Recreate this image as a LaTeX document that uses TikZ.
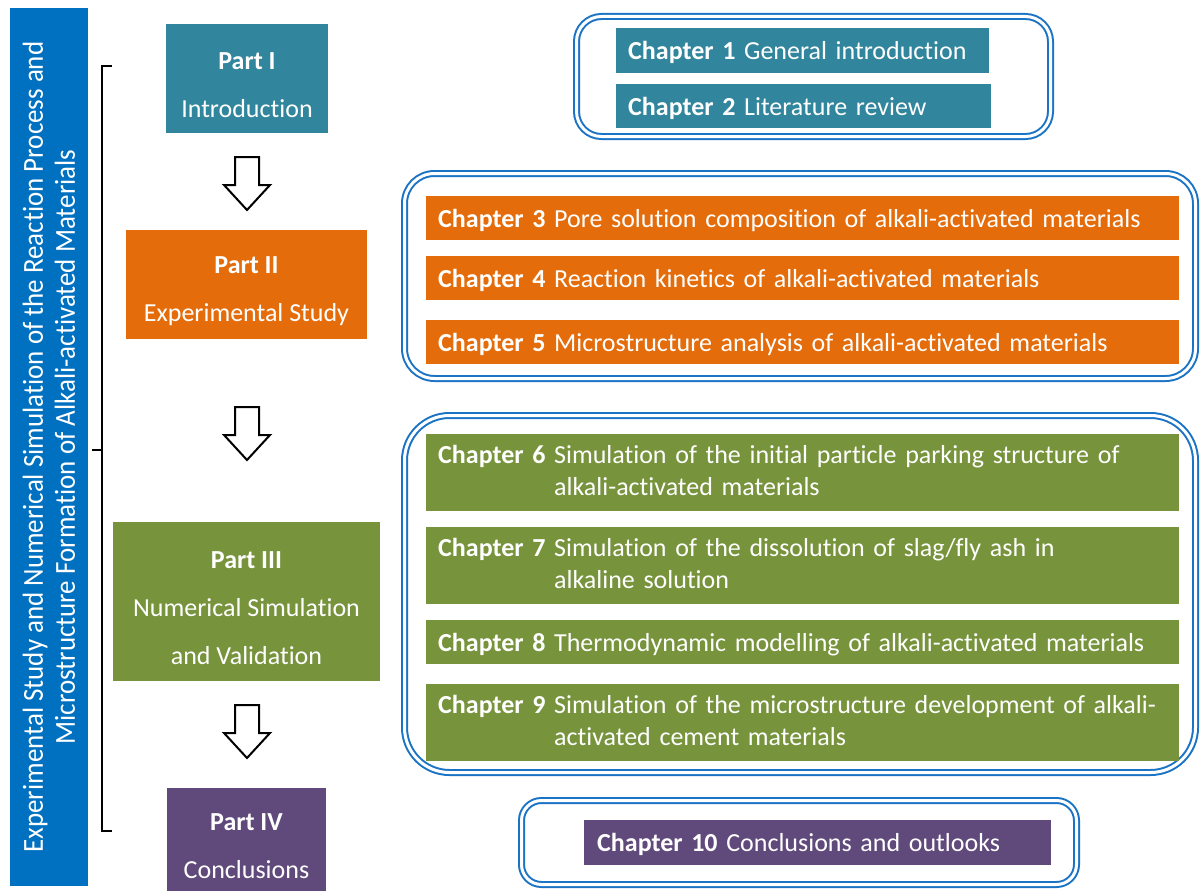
\documentclass[tikz,border=0pt]{standalone}
\usepackage{fontspec}
\setmainfont{Carlito}[Ligatures=NoCommon]
\newfontfamily\titleFont[FakeStretch=0.93,Ligatures=NoCommon]{Carlito}
\usetikzlibrary{positioning}
\definecolor{titleBlue}{HTML}{0070C0}
\definecolor{frameBlue}{HTML}{1A73C4}
\definecolor{partTeal}{HTML}{31859C}
\definecolor{partOrange}{HTML}{E46C0A}
\definecolor{partGreen}{HTML}{77933C}
\definecolor{partPurple}{HTML}{604A7B}
\newcommand{\partHead}[1]{\rule{0pt}{30pt}\textbf{#1}}
\tikzset{
  partBox/.style={fill=#1, text=white, align=center, inner sep=0pt,
    font=\fontsize{26}{48}\selectfont},
  chapBox/.style={fill=#1, text=white, anchor=west, align=left,
    inner xsep=12pt, inner ysep=0pt, font=\fontsize{26}{32}\selectfont,
    execute at begin node=\rule{0pt}{23pt}},
  groupFrame/.style={draw=frameBlue, double=white, double distance=3pt,
    line width=2pt, rounded corners=#1},
  hollowArrow/.pic={
    \draw[line width=2pt, fill=white, line join=miter]
      (-12,0) -- (-12,28) -- (-23,28) -- (0,53) -- (23,28) -- (12,28) -- (12,0) -- cycle;
  }
}
\begin{document}
\begin{tikzpicture}[x=1pt, y=-1pt]
    \useasboundingbox (0,0) rectangle (1200,891);
    % title bar
    \node[fill=titleBlue, text=white, rotate=90, align=center, inner sep=0pt,
      minimum width=878pt, minimum height=78pt,
      font=\titleFont\fontsize{29}{32}\selectfont] (title) at (49,447)
      {Experimental Study and Numerical Simulation of the Reaction Process and\\
       Microstructure Formation of Alkali-activated Materials};
    \coordinate (braceTop) at (112,66);
    \coordinate (braceBot) at (112,831);
    \coordinate (braceMid) at (92,450);
    \draw[line width=1.5pt] (braceTop) -- ++(-10,0) |- (braceBot);
    \draw[line width=1.5pt] (braceMid) -- ++(10,0);
    % parts
    \node[partBox=partTeal, minimum width=162pt, minimum height=109pt] (part1) at (247,78.5)
      {\partHead{Part I}\\Introduction};
    \node[partBox=partOrange, minimum width=241pt, minimum height=109pt] (part2) at (246.5,284.5)
      {\partHead{Part II}\\Experimental Study};
    \node[partBox=partGreen, minimum width=267pt, minimum height=159pt] (part3) at (246.5,601.5)
      {\partHead{Part III}\\Numerical Simulation\\and Validation};
    \node[partBox=partPurple, minimum width=159pt, minimum height=103pt] (part4) at (246.5,839.5)
      {\partHead{Part IV}\\Conclusions};
    \pic at (247,157) {hollowArrow};
    \pic at (247,407) {hollowArrow};
    \pic at (247,705) {hollowArrow};
    % chapter groups
    \node[groupFrame=25pt, minimum width=474pt, minimum height=120pt] (groupI) at (813.5,76.5) {};
    \node[groupFrame=30pt, minimum width=791pt, minimum height=205pt] (groupII) at (800,276) {};
    \node[groupFrame=45pt, minimum width=791pt, minimum height=357pt] (groupIII) at (800,594) {};
    \node[groupFrame=20pt, minimum width=555pt, minimum height=84pt] (groupIV) at (799,842.5) {};
    \node[chapBox=partTeal, text width=349pt, minimum height=45pt] (ch1) at (616,50.5)
      {\textbf{Chapter 1} General introduction};
    \node[chapBox=partTeal, text width=351pt, minimum height=44pt] (ch2) at (616,106)
      {\textbf{Chapter 2} Literature review};
    \node[chapBox=partOrange, text width=729pt, minimum height=44pt] (ch3) at (426,218)
      {\textbf{Chapter 3} Pore solution composition of alkali-activated materials};
    \node[chapBox=partOrange, text width=729pt, minimum height=44pt] (ch4) at (426,278)
      {\textbf{Chapter 4} Reaction kinetics of alkali-activated materials};
    \node[chapBox=partOrange, text width=729pt, minimum height=44pt] (ch5) at (426,342)
      {\textbf{Chapter 5} Microstructure analysis of alkali-activated materials};
    \node[chapBox=partGreen, text width=729pt, minimum height=77pt] (ch6) at (426,472.5)
      {\textbf{Chapter 6} \begin{tabular}[t]{@{}l@{}}Simulation of the initial particle parking structure of\\alkali-activated materials\end{tabular}};
    \node[chapBox=partGreen, text width=729pt, minimum height=77pt] (ch7) at (426,565.5)
      {\textbf{Chapter 7} \begin{tabular}[t]{@{}l@{}}Simulation of the dissolution of slag/fly ash in\\alkaline solution\end{tabular}};
    \node[chapBox=partGreen, text width=729pt, minimum height=44pt] (ch8) at (426,642)
      {\textbf{Chapter 8} Thermodynamic modelling of alkali-activated materials};
    \node[chapBox=partGreen, text width=729pt, minimum height=77pt] (ch9) at (426,722.5)
      {\textbf{Chapter 9} \begin{tabular}[t]{@{}l@{}}Simulation of the microstructure development of alkali-\\activated cement materials\end{tabular}};
    \node[chapBox=partPurple, text width=441pt, minimum height=45pt, inner xsep=13pt] (ch10) at (584,842.5)
      {\textbf{Chapter 10} Conclusions and outlooks};
\end{tikzpicture}
\end{document}
